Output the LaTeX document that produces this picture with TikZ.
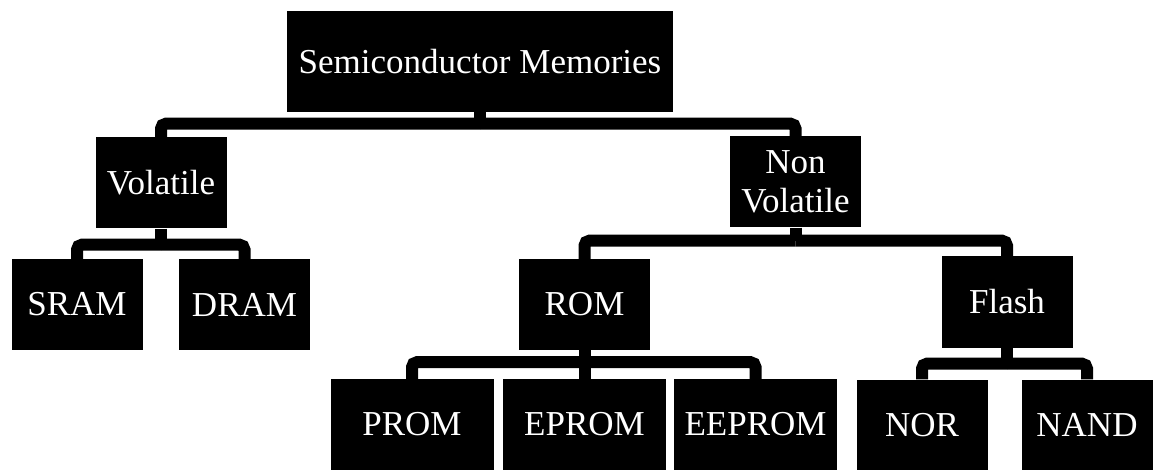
\documentclass[tikz,border=0pt]{standalone}
\usepackage{fontspec}
\setmainfont{Liberation Serif}
\usetikzlibrary{positioning}

\begin{document}
\begin{tikzpicture}[
    x=1pt, y=-1pt,
    memblock/.style={rectangle, fill=black, text=white, inner sep=0pt, align=center, minimum width=131pt, minimum height=91pt, font=\fontsize{35}{39}\selectfont},
    wideblock/.style={memblock, minimum width=163pt},
    link/.style={draw=black, line width=12pt, rounded corners=5pt}
]

\useasboundingbox (0,0) rectangle (1154,470);

% Root block
\node[memblock, minimum width=386pt, minimum height=101pt] (root) at (480,61.5) {Semiconductor Memories};

% Second level
\node[memblock] (volatile) at (161,183) {Volatile};
\node[memblock] (nonvol) at (795.5,182) {Non\\Volatile};

% Third level
\node[memblock] (sram) at (77,304.5) {SRAM};
\node[memblock] (dram) at (244.5,304.5) {DRAM};
\node[memblock] (rom) at (584.5,304.5) {ROM};
\node[memblock] (flash) at (1007,302) {Flash};

% Bottom level
\node[wideblock] (prom) at (412,424.5) {PROM};
\node[wideblock] (eprom) at (584.5,424.5) {EPROM};
\node[wideblock] (eeprom) at (755.5,424.5) {EEPROM};
\node[memblock] (nor) at (922,425) {NOR};
\node[memblock] (nand) at (1087,425) {NAND};

% Branching points
\coordinate[below=11.5pt of root.south] (rootbar);
\coordinate[below=16pt of volatile.south] (volbar);
\coordinate[below=13pt of nonvol.south] (nvbar);
\coordinate[below=12pt of rom.south] (rombar);
\coordinate[below=16pt of flash.south] (flashbar);

% Root to second level
\draw[link] (root.south) -- (rootbar);
\draw[link] (rootbar) -| (volatile.north);
\draw[link] (rootbar) -| (nonvol.north);

% Volatile branch
\draw[link] (volatile.south) -- (volbar);
\draw[link] (volbar) -| (sram.north);
\draw[link] (volbar) -| (dram.north);

% Non volatile branch
\draw[link] (nonvol.south) -- (nvbar);
\draw[link] (nvbar) -| (rom.north);
\draw[link] (nvbar) -| (flash.north);

% ROM branch
\draw[link] (rom.south) -- (eprom.north);
\draw[link] (rombar) -| (prom.north);
\draw[link] (rombar) -| (eeprom.north);

% Flash branch
\draw[link] (flash.south) -- (flashbar);
\draw[link] (flashbar) -| (nor.north);
\draw[link] (flashbar) -| (nand.north);

\end{tikzpicture}
\end{document}
